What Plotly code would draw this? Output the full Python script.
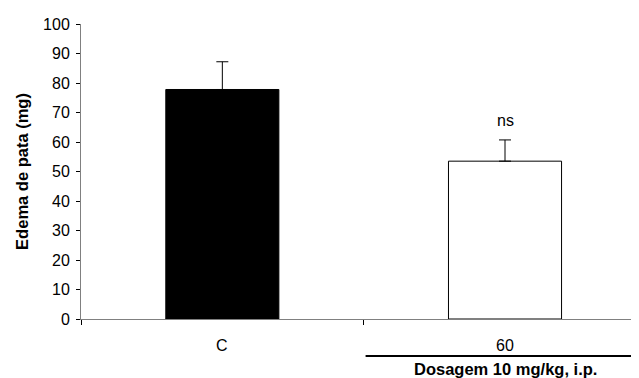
import plotly.graph_objects as go

categories = ["C", "60"]
means = [77.8, 53.5]
errors = [9.4, 7.2]
bar_colors = ["#000000", "#ffffff"]
sig_labels = ["", "ns"]
group_label = "Dosagem 10 mg/kg, i.p."
y_title = "Edema de pata (mg)"

xpos = list(range(len(categories)))
FONT = "Liberation Sans, Arial, sans-serif"

# page body has an 8px default margin, so the figure is sized 8px smaller
W, H = 631, 370
fig = go.Figure()
fig.add_trace(go.Bar(
    x=xpos, y=means, width=0.4,
    marker=dict(color=bar_colors, line=dict(color="#000000", width=1)),
    error_y=dict(type="data", array=errors, arrayminus=[0] * len(errors),
                 symmetric=False, color="#000000", thickness=1, width=6),
    showlegend=False,
))

annotations = []
for xi, cat in zip(xpos, categories):
    annotations.append(dict(x=xi, y=-0.09, xref="x", yref="paper", text=cat,
                            showarrow=False, yanchor="middle",
                            font=dict(family=FONT, size=16, color="#000")))
for xi, m, e, s in zip(xpos, means, errors, sig_labels):
    if s:
        annotations.append(dict(x=xi, y=m + e, xref="x", yref="y", text=s,
                                showarrow=False, yanchor="bottom", yshift=9,
                                font=dict(family=FONT, size=16, color="#000")))
annotations.append(dict(x=1, y=-0.17, xref="x", yref="paper", text="<b>" + group_label + "</b>",
                        showarrow=False, yanchor="middle",
                        font=dict(family=FONT, size=16.5, color="#000")))

fig.update_layout(
    width=W, height=H,
    margin=dict(l=73, r=0, t=16, b=59),
    paper_bgcolor="white", plot_bgcolor="white",
    font=dict(family=FONT, size=16, color="#000"),
    annotations=annotations,
    shapes=[dict(type="line", xref="paper", yref="paper", x0=0.51, x1=1.0,
                 y0=-0.125, y1=-0.125, line=dict(color="#000", width=2))],
    xaxis=dict(range=[-0.5, 1.474], showgrid=False, zeroline=False,
               showline=True, linecolor="#808080", linewidth=1,
               tickmode="array", tickvals=[-0.5, 0.5], ticktext=["", ""],
               ticks="outside", ticklen=5, tickcolor="#000", fixedrange=True),
    yaxis=dict(range=[0, 100], tickmode="linear", tick0=0, dtick=10,
               showgrid=False, zeroline=False, showline=True,
               linecolor="#808080", linewidth=1, ticks="outside", ticklen=4,
               tickcolor="#000", tickfont=dict(size=16), ticklabelstandoff=3,
               title=dict(text="<b>" + y_title + "</b>", standoff=10,
                          font=dict(size=16.5))),
)

fig.write_html("out.html")
